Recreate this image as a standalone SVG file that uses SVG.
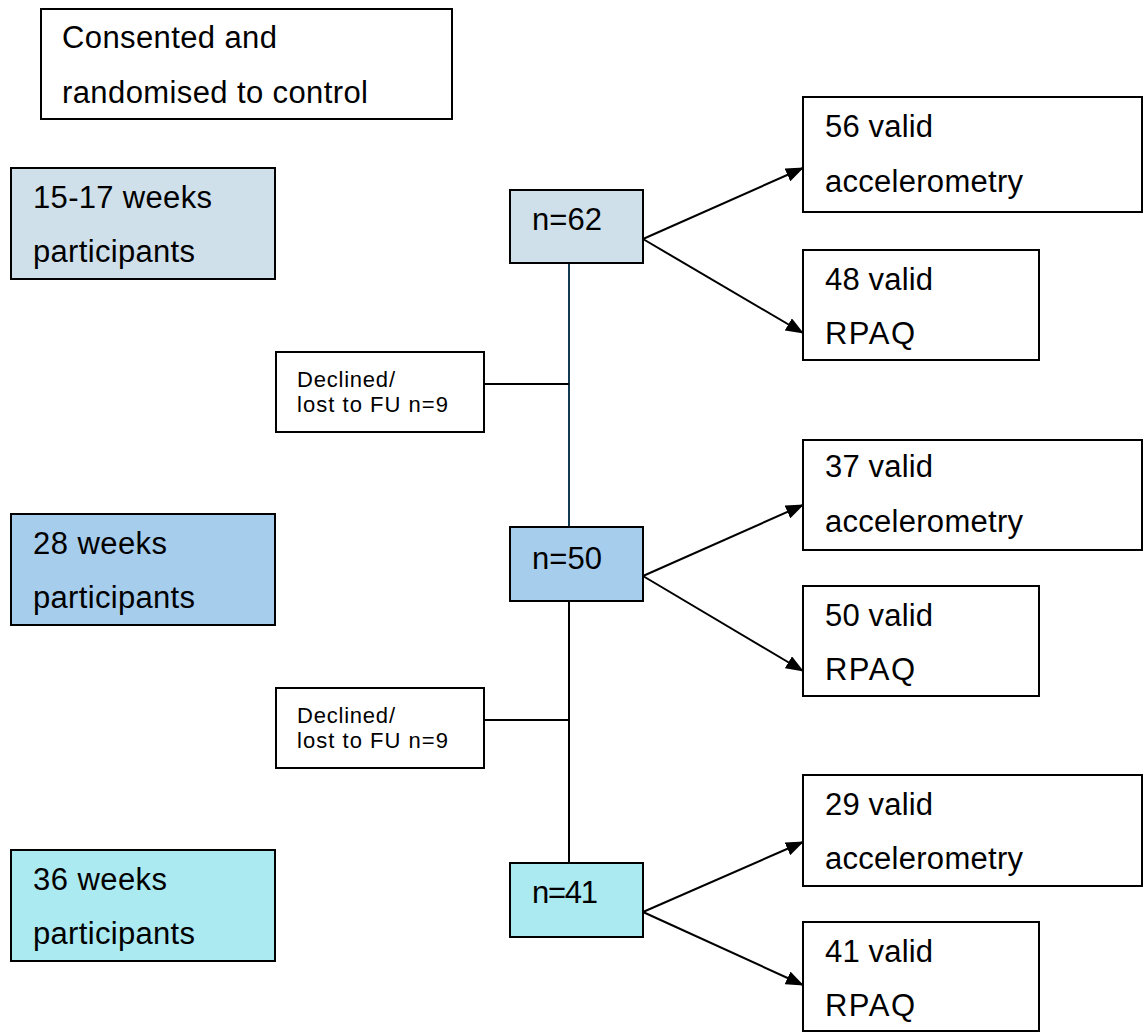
<svg xmlns="http://www.w3.org/2000/svg" width="1147" height="1033" viewBox="0 0 1147 1033">
<style>
.box{stroke:#000;stroke-width:2;fill:#fff}
.t{font-family:"Liberation Sans",Arial,sans-serif;font-size:31px;fill:#000}
.s{font-family:"Liberation Sans",Arial,sans-serif;font-size:22px;fill:#000}
.c{stroke:#000;stroke-width:2;fill:none}
.a{stroke:#000;stroke-width:2;fill:none;marker-end:url(#ah)}
</style>
<defs>
<marker id="ah" markerUnits="userSpaceOnUse" markerWidth="18" markerHeight="14" refX="17" refY="7" orient="auto">
<path d="M0,0 L18,7 L0,14 Z" fill="#000"/>
</marker>
</defs>
<rect width="1147" height="1033" fill="#fff"/>
<g id="connectors">
<line class="c" x1="569" y1="263" x2="569" y2="527" style="stroke:#123a52"/>
<line class="c" x1="484" y1="384" x2="569" y2="384"/>
<line class="c" x1="569" y1="601" x2="569" y2="863"/>
<line class="c" x1="484" y1="720" x2="569" y2="720"/>
<line class="a" x1="643" y1="239" x2="803" y2="168"/>
<line class="a" x1="643" y1="239" x2="803" y2="333"/>
<line class="a" x1="643" y1="576" x2="803" y2="505"/>
<line class="a" x1="643" y1="576" x2="803" y2="671"/>
<line class="a" x1="643" y1="912" x2="803" y2="842"/>
<line class="a" x1="643" y1="912" x2="803" y2="985"/>
</g>
<g id="consented"><rect class="box" x="41" y="9" width="411" height="110"/>
<text class="t" x="62" y="48" textLength="215">Consented and</text><text class="t" x="62" y="103" textLength="306">randomised to control</text></g>
<g id="w15"><rect class="box" x="11" y="168" width="264" height="111" style="fill:#cfe0ea"/>
<text class="t" x="33" y="208" textLength="179">15-17 weeks</text><text class="t" x="33" y="262" textLength="162">participants</text></g>
<g id="w28"><rect class="box" x="11" y="514" width="264" height="111" style="fill:#a6cdec"/>
<text class="t" x="33" y="554" textLength="134">28 weeks</text><text class="t" x="33" y="608" textLength="162">participants</text></g>
<g id="w36"><rect class="box" x="11" y="850" width="264" height="111" style="fill:#aaeaf0"/>
<text class="t" x="33" y="890" textLength="134">36 weeks</text><text class="t" x="33" y="944" textLength="162">participants</text></g>
<g id="n62"><rect class="box" x="510" y="190" width="133" height="73" style="fill:#cfe0ea"/>
<text class="t" x="532" y="230" textLength="70">n=62</text></g>
<g id="n50"><rect class="box" x="510" y="527" width="133" height="74" style="fill:#a6cdec"/>
<text class="t" x="532" y="569" textLength="70">n=50</text></g>
<g id="n41"><rect class="box" x="510" y="863" width="133" height="74" style="fill:#aaeaf0"/>
<text class="t" x="532" y="903" textLength="66">n=41</text></g>
<g id="decl1"><rect class="box" x="276" y="352" width="208" height="80"/>
<text class="s" x="297" y="387" textLength="98">Declined/</text><text class="s" x="297" y="412" textLength="151">lost to FU n=9</text></g>
<g id="decl2"><rect class="box" x="276" y="688" width="208" height="80"/>
<text class="s" x="297" y="723" textLength="98">Declined/</text><text class="s" x="297" y="748" textLength="151">lost to FU n=9</text></g>
<g id="acc56"><rect class="box" x="803" y="97" width="339" height="115"/>
<text class="t" x="825" y="137" textLength="108">56 valid</text><text class="t" x="825" y="192" textLength="198">accelerometry</text></g>
<g id="rpaq48"><rect class="box" x="803" y="250" width="236" height="110"/>
<text class="t" x="825" y="290" textLength="108">48 valid</text><text class="t" x="825" y="344" textLength="90">RPAQ</text></g>
<g id="acc37"><rect class="box" x="803" y="440" width="339" height="110"/>
<text class="t" x="825" y="477" textLength="108">37 valid</text><text class="t" x="825" y="532" textLength="198">accelerometry</text></g>
<g id="rpaq50"><rect class="box" x="803" y="586" width="236" height="110"/>
<text class="t" x="825" y="626" textLength="108">50 valid</text><text class="t" x="825" y="680" textLength="90">RPAQ</text></g>
<g id="acc29"><rect class="box" x="803" y="775" width="339" height="111"/>
<text class="t" x="825" y="815" textLength="108">29 valid</text><text class="t" x="825" y="869" textLength="198">accelerometry</text></g>
<g id="rpaq41"><rect class="box" x="803" y="922" width="236" height="109"/>
<text class="t" x="825" y="962" textLength="108">41 valid</text><text class="t" x="825" y="1016" textLength="90">RPAQ</text></g>
</svg>
